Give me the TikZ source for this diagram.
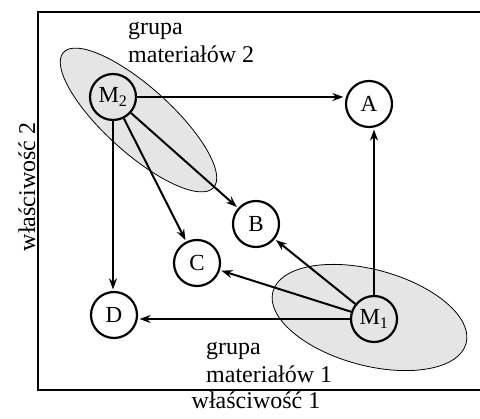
\documentclass[tikz,border=0pt]{standalone}
\usepackage{fontspec}
\setmainfont{Liberation Serif}
\usetikzlibrary{arrows.meta}
\begin{document}
\begin{tikzpicture}[x=1pt,y=-1pt,
  pt/.style={circle,draw,line width=2.2pt,minimum size=46pt,inner sep=0pt,font=\fontsize{23}{27}\selectfont},
  grp/.style={fill=black!10,draw,line width=0.8pt},
  arr/.style={line width=2pt,-{Stealth[length=11pt,width=8pt]},shorten >=1.5pt},
  lbl/.style={font=\fontsize{24}{28}\selectfont,inner sep=0pt}]
\useasboundingbox (0,0) rectangle (480,419);
% frame
\draw[line width=2.8pt] (38,12) rectangle (484,390);
% groups
\draw[grp,rotate around={-42:(138.5,120)}] (138.5,120) ellipse (101pt and 33pt);
\draw[grp,rotate around={-15:(369.5,317.5)}] (369.5,317.5) ellipse (100pt and 48pt);
% points
\node[pt] (M2) at (113,97) {M\textsubscript{2}};
\node[pt] (A) at (369,104) {A};
\node[pt] (B) at (256,224) {B};
\node[pt] (C) at (197,263) {C};
\node[pt] (D) at (114,315) {D};
\node[pt] (M1) at (374,319) {M\textsubscript{1}};
% labels
\node[lbl,anchor=base west,align=left] (g2) at (128,63) {grupa\\materiałów 2};
\node[lbl,anchor=base west,align=left] (g1) at (206,383) {grupa\\materiałów 1};
\node[lbl,rotate=90] (ylab) at (27,187) {właściwość 2};
\node[lbl,anchor=base] (xlab) at (256,409) {właściwość 1};
% arrows
\draw[arr] (M2) -- (M2 -| A.west);
\draw[arr] (M2) -- (B);
\draw[arr] (M2) -- (C);
\draw[arr] (M2) -- (M2 |- D.north);
\draw[arr] (M1) -- (M1 |- A.south);
\draw[arr] (M1) -- (B);
\draw[arr] (M1) -- (C);
\draw[arr] (M1) -- (M1 -| D.east);
\end{tikzpicture}
\end{document}
